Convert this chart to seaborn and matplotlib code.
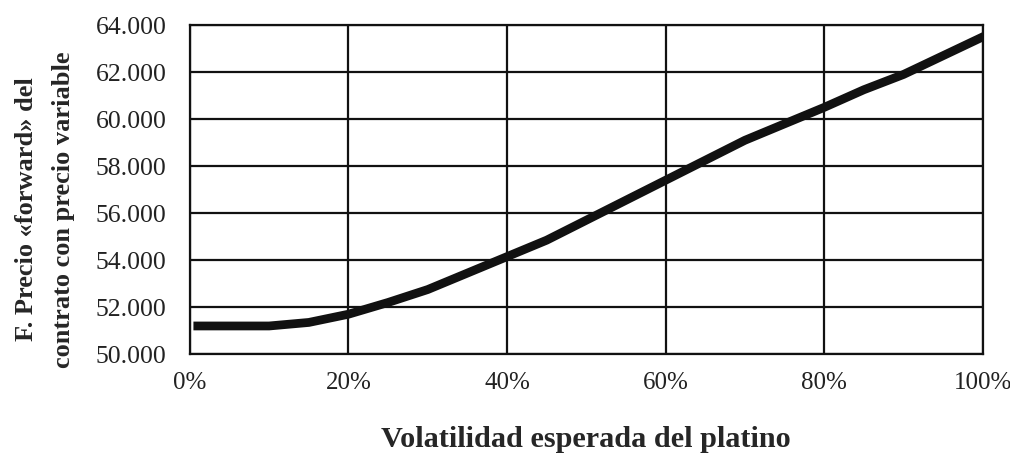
import pandas as pd
import matplotlib.pyplot as plt
import seaborn as sns
from matplotlib.ticker import FuncFormatter

# volatilidad (%) y precio forward
volatilidad = [1, 5, 10, 15, 20, 25, 30, 35, 40, 45, 50, 55, 60, 65, 70, 75, 80, 85, 90, 95, 100]
precio = [51200, 51200, 51200, 51350, 51700, 52200, 52750, 53450, 54150, 54850,
          55700, 56550, 57400, 58250, 59100, 59800, 60500, 61250, 61900, 62700, 63500]
x_ticks = [0, 20, 40, 60, 80, 100]
y_ticks = [50000, 52000, 54000, 56000, 58000, 60000, 62000, 64000]

df = pd.DataFrame({'vol': volatilidad, 'precio': precio})

sns.set_style('white')
plt.rcParams['font.family'] = 'Liberation Serif'
fuente = 'Liberation Serif'

fig, ax = plt.subplots(figsize=(10.1, 4.57), dpi=100)
fig.subplots_adjust(left=0.188, right=0.973, top=0.945, bottom=0.225)

sns.lineplot(data=df, x='vol', y='precio', color='#111111', linewidth=6.3,
             solid_capstyle='projecting', ax=ax)

ax.set_xlim(0, 100)
ax.set_ylim(50000, 64000)
ax.set_xticks(x_ticks)
ax.set_yticks(y_ticks)
ax.xaxis.set_major_formatter(FuncFormatter(lambda v, p: f'{v:.0f}%'))
ax.yaxis.set_major_formatter(FuncFormatter(lambda v, p: f'{v:,.0f}'.replace(',', '.')))
ax.grid(True, color='#111111', linewidth=1.6)
ax.set_axisbelow(True)
for s in ax.spines.values():
    s.set_color('#111111')
    s.set_linewidth(1.6)
ax.tick_params(axis='both', direction='out', length=7, width=1.6, color='#111111',
               labelsize=18.5, labelcolor='#222222')
ax.tick_params(axis='x', pad=6, labelsize=18)
ax.tick_params(axis='y', pad=10)
for lab in ax.get_xticklabels() + ax.get_yticklabels():
    lab.set_family(fuente)

ax.set_xlabel('Volatilidad esperada del platino', fontsize=21.8, fontweight='bold',
              labelpad=23, family=fuente)
ax.set_ylabel('F. Precio «forward» del\ncontrato con precio variable', fontsize=19,
              fontweight='bold', family=fuente, linespacing=1.75)
ax.yaxis.set_label_coords(-0.145, 0.44)

plt.savefig('out.png', dpi=100)
